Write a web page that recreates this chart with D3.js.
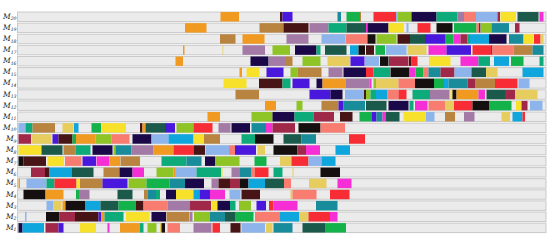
<!DOCTYPE html>
<html>
<head>
<meta charset="utf-8">
<script src="https://d3js.org/d3.v7.min.js"></script>
<style>
  body { margin: 0; background: #fff; }
  .lbl { font-family: "DejaVu Serif", serif; font-style: italic; font-size: 7.5px; fill: #222; }
</style>
</head>
<body>
<div id="chart"></div>
<script>
// machines, top to bottom
var machines = ["M20","M19","M18","M17","M16","M15","M14","M13","M12","M11","M10","M9","M8","M7","M6","M5","M4","M3","M2","M1"];

// one colour per job
var jobNames = ["orange","navy","violet","green","tealgreen","red","lime","lightblue","darkteal","magenta",
                "yellow","khaki","salmon","tan","mauve","maroon","darkbrown","black","tealblue","skyblue"];
var jobColors = ["#f09a22","#1a0848","#4a17dc","#13b24a","#0eab7a","#f72c35","#8ec425","#8db5ec","#1b5a4b","#f52fd5",
                 "#f7e12b","#e6cd5e","#f97c70","#b9843f","#a37aa6","#a02849","#471515","#150f10","#198c9c","#0fa6de"];

// operations per machine: [start, end, job]
var m20 = [[203,221.5,"orange"],[262.5,265,"darkbrown"],[265,275,"violet"],[320,323.5,"tealblue"],[329,342.5,"green"],[342.5,343.5,"tan"],
  [356,378.5,"red"],[378.5,380,"lightblue"],[380,394,"lime"],[394,419,"navy"],[419,440,"tealgreen"],[440,446.5,"mauve"],[446.5,458.5,"salmon"],
  [458.5,480,"lightblue"],[480,482.5,"maroon"],[483,498.5,"yellow"],[500,521,"darkteal"],[522,526,"magenta"]];
var m19 = [[167.5,189,"orange"],[242,266,"tan"],[266,291,"darkbrown"],[292,311,"mauve"],[311,329,"tealgreen"],[329,348.5,"darkteal"],
  [348.5,350,"magenta"],[350,371,"navy"],[371,386.5,"yellow"],[389,391,"lightblue"],[400,413,"red"],[419,435,"black"],[436.5,459,"green"],
  [459,461.5,"salmon"],[461.5,463,"violet"],[463,474,"lime"],[474,491.5,"tealblue"],[497.5,502,"maroon"]];
var m18 = [[202.5,218,"tan"],[225,247,"orange"],[269,291,"mauve"],[304,327.5,"lightblue"],[328,350,"salmon"],[350,358,"black"],[359,379,"lime"],
  [380,392.5,"darkbrown"],[392.5,407.5,"darkteal"],[407.5,427.5,"violet"],[427.5,436,"green"],[436,443,"magenta"],[443,450,"maroon"],
  [450,452.5,"tealgreen"],[452.5,471.5,"skyblue"],[471.5,489,"navy"],[491.5,506,"tealblue"],[506,516,"yellow"],[516.5,523,"red"],[523,526,"khaki"]];
var m17 = [[165.5,167,"orange"],[205,205.8,"khaki"],[225,247.5,"mauve"],[255,272.5,"lime"],[277.5,299,"navy"],[299,303,"tealgreen"],
  [307.5,329,"darkteal"],[332.5,341,"skyblue"],[341,347.5,"black"],[348.5,356.5,"darkbrown"],[358,367.5,"green"],[368.5,389,"lightblue"],
  [390,409,"khaki"],[411,429,"magenta"],[429,453.5,"violet"],[455,473.5,"red"],[473.5,475,"maroon"],[475,496,"salmon"],[496,515,"tan"],[515,526,"tealblue"]];
var m16 = [[158,165.5,"orange"],[233,251,"navy"],[251.5,268.5,"mauve"],[268.5,275,"tan"],[285,303,"lime"],[310,332.5,"khaki"],[333,347,"violet"],
  [347.5,361.5,"lightblue"],[362.5,371,"black"],[371.5,391,"maroon"],[391.5,394,"darkbrown"],[394,400,"red"],[411.5,433,"yellow"],
  [443,461,"magenta"],[461,472.5,"tealgreen"],[476.5,491.5,"skyblue"],[493.5,506,"green"],[522,526,"tealgreen"]];
var m15 = [[222,224.5,"orange"],[229,242,"yellow"],[249,266,"violet"],[273,280,"lime"],[280,304,"tan"],[311,325,"mauve"],[326,348.5,"navy"],
  [348.5,356,"red"],[356,372.5,"tealgreen"],[373,392,"black"],[392,398,"magenta"],[398,406,"green"],[406,411,"salmon"],[411,423,"tealblue"],
  [423,437,"maroon"],[437,454,"lightblue"],[454,468.5,"darkteal"],[468.5,480,"khaki"],[505,526,"skyblue"]];
var m14 = [[206,229,"yellow"],[241.5,265,"darkbrown"],[265,273,"tealgreen"],[275,292,"violet"],[299,305,"navy"],[305,328,"orange"],
  [328,352,"mauve"],[352,354,"magenta"],[356,358.5,"lime"],[358.5,381,"khaki"],[381,397.5,"salmon"],[397.5,416.5,"black"],[416.5,426.5,"green"],
  [426.5,431,"skyblue"],[431,450,"tealblue"],[450,457.5,"maroon"],[457.5,477.5,"tan"],[477.5,500,"red"],[501,512,"lightblue"]];
var m13 = [[218,241.5,"tan"],[292,313,"violet"],[313,325,"navy"],[327.5,346.5,"lightblue"],[346.5,348.5,"darkbrown"],[348.5,353,"lime"],
  [353,358.5,"tealgreen"],[358.5,370,"skyblue"],[370,381,"salmon"],[381,389,"red"],[395,412.5,"tealgreen"],[412.5,432,"mauve"],[433,435,"yellow"],
  [435,439,"black"],[439,461,"orange"],[461,467.5,"magenta"],[469,487.5,"darkteal"],[487.5,497.5,"maroon"],[497.5,520,"khaki"]];
var m12 = [[247.5,258.5,"orange"],[279,285,"lime"],[304,321,"tan"],[321,326,"violet"],[326,347.5,"tealblue"],[348.5,369,"darkteal"],
  [371,391,"navy"],[392,396,"tealgreen"],[397.5,410,"magenta"],[411,427.5,"salmon"],[427.5,436.5,"khaki"],[436.5,455,"red"],[455,471.5,"black"],
  [471.5,494,"green"],[498.5,503.5,"yellow"],[504,510,"maroon"],[512.5,525,"lightblue"]];
var m11 = [[190,202.5,"orange"],[234,255,"lime"],[255,277,"navy"],[277,296,"tealgreen"],[296,316.5,"maroon"],[322.5,335,"darkbrown"],
  [342,354,"green"],[354,359,"violet"],[359,365,"tealblue"],[365,368.5,"magenta"],[368.5,382,"darkteal"],[386,408.5,"yellow"],[408.5,417,"lightblue"],
  [427.5,437.5,"tan"],[446.5,457,"mauve"],[484,492.5,"khaki"],[495,505,"skyblue"],[505,507.5,"red"]];
var m10 = [[1,8,"lightblue"],[8,15,"tealgreen"],[15,37.5,"tan"],[45,56,"khaki"],[56.5,61,"skyblue"],[74,83.5,"green"],[84,108.5,"yellow"],
  [122.5,125,"darkbrown"],[125,128,"orange"],[128,147.5,"darkteal"],[147.5,157.5,"violet"],[159,176,"lime"],[176,195,"red"],[201,213,"mauve"],
  [214,232.5,"navy"],[234,248.5,"tealblue"],[248.5,255,"magenta"],[255,277.5,"maroon"],[281,303,"black"],[303,327.5,"salmon"]];
var m9 = [[1,13.5,"maroon"],[14,34,"khaki"],[35,41,"violet"],[41,55,"darkbrown"],[55,58.5,"green"],[58.5,78,"orange"],[78,94,"lime"],
  [94,112,"salmon"],[115,134,"navy"],[134,151,"lightblue"],[151,176,"skyblue"],[176,186.5,"yellow"],[186.5,202.5,"tan"],[224,237.5,"tealgreen"],
  [237.5,256,"black"],[266,284,"darkteal"],[284,298.5,"tealblue"],[331.5,347.5,"red"]];
var m8 = [[1,23.5,"yellow"],[24,45,"darkteal"],[46,58,"tan"],[58,73,"tealgreen"],[75,95,"navy"],[96,98,"lime"],[98,114,"tealblue"],
  [114,136,"mauve"],[136,156,"orange"],[156,176.5,"red"],[176.5,187.5,"darkbrown"],[188,211.5,"lightblue"],[211.5,217.5,"salmon"],
  [217.5,238.5,"violet"],[240,247.5,"khaki"],[256,280,"black"],[280,288.5,"maroon"],[288.5,302.5,"magenta"],[318,332.5,"skyblue"]];
var m7 = [[1,6,"black"],[6,28.5,"darkbrown"],[30,46.5,"yellow"],[47.5,64,"salmon"],[65,78.5,"violet"],[79,92,"magenta"],[92.5,102.5,"orange"],
  [103,122.5,"tan"],[144,169,"tealgreen"],[169,184,"tealblue"],[187.5,197.5,"navy"],[197.5,222,"lime"],[237,249,"green"],[262.5,274,"khaki"],
  [274,291,"red"],[291,304,"lightblue"],[304,318,"skyblue"]];
var m6 = [[13.5,27.5,"maroon"],[27.5,32,"darkbrown"],[32,54,"skyblue"],[54,76,"darkteal"],[86,102,"tan"],[102,115,"navy"],[115,126.5,"magenta"],
  [139,156,"lime"],[156,157.5,"orange"],[157.5,179,"lightblue"],[179,203.5,"tealgreen"],[203.5,205,"yellow"],[214,222.5,"mauve"],
  [222.5,233.5,"tealblue"],[233.5,237.5,"salmon"],[237.5,251,"red"],[256,265,"tealgreen"],[275,276,"khaki"],[303,322.5,"black"]];
var m5 = [[1,2.5,"orange"],[9,29,"lightblue"],[29,37,"tealgreen"],[37,59,"red"],[59,62.5,"yellow"],[62.5,85,"tan"],[85,110,"violet"],
  [111,129,"lime"],[129,152,"green"],[152,167.5,"tealblue"],[167.5,186.5,"navy"],[194,201,"mauve"],[201,212.5,"darkbrown"],[212.5,222.5,"maroon"],
  [222.5,231,"black"],[231,247.5,"skyblue"],[247.5,266.5,"darkteal"],[266.5,273.5,"salmon"],[291.5,309,"khaki"],[320,334,"magenta"]];
var m4 = [[6,28,"black"],[28,46,"orange"],[58.5,61.5,"green"],[61.5,72,"mauve"],[100,115,"darkteal"],[126.5,130,"tan"],[130,138.5,"tealblue"],
  [138.5,142.5,"tealgreen"],[148.5,158.5,"navy"],[158.5,176,"yellow"],[176,182,"skyblue"],[182,192.5,"violet"],[192.5,207.5,"magenta"],
  [212,223,"lightblue"],[224,242.5,"darkbrown"],[273,275,"khaki"],[275,299,"salmon"],[312.5,332,"red"]];
var m3 = [[29,36,"lightblue"],[36,44,"khaki"],[45,48,"orange"],[48,67.5,"black"],[67.5,83,"skyblue"],[83,101,"darkteal"],[101,118.5,"green"],
  [118.5,126,"darkbrown"],[126,150,"salmon"],[150,172.5,"mauve"],[172.5,193.5,"maroon"],[194,200,"yellow"],[200,212.5,"navy"],
  [212.5,218,"tealgreen"],[221.5,233.5,"lime"],[239,248.5,"violet"],[251.5,256,"red"],[256,280,"magenta"],[298.5,320,"tealblue"]];
var m2 = [[7.5,9,"lightblue"],[28.5,42,"black"],[42,57.5,"maroon"],[57.5,81,"darkbrown"],[81,83.5,"violet"],[83.5,87,"orange"],
  [87,106,"tealgreen"],[108.5,132,"yellow"],[134,148.5,"navy"],[149,172,"tan"],[172.5,175,"mauve"],[176.5,192.5,"lime"],[192.5,207.5,"tealblue"],
  [207.5,217.5,"darkteal"],[217.5,236,"green"],[237.5,262.5,"salmon"],[262.5,281.5,"skyblue"],[281.5,291,"khaki"],[291,312.5,"red"],[312.5,320,"magenta"]];
var m1 = [[1,5,"navy"],[5,26.5,"skyblue"],[28,41,"maroon"],[41,46,"violet"],[62.5,78.5,"yellow"],[90,92,"magenta"],[102.5,122.5,"orange"],
  [122.5,126,"tealgreen"],[130,139,"lime"],[142.5,144,"khaki"],[144,147.5,"black"],[150,162.5,"salmon"],[176,194,"mauve"],[195,202.5,"red"],
  [213,223,"darkbrown"],[224,247.5,"lightblue"],[248.5,255,"khaki"],[256,275,"tealblue"],[285,307.5,"darkteal"],[307.5,328.5,"green"]];

var schedule = [m20,m19,m18,m17,m16,m15,m14,m13,m12,m11,m10,m9,m8,m7,m6,m5,m4,m3,m2,m1];
var timeMax = 528.5;

var width = 550, height = 242;

var svg = d3.select("#chart")
  .append("svg")
  .attr("width", width)
  .attr("height", height);

var x = d3.scaleLinear().domain([0, timeMax]).range([17.5, 546]);

var y = d3.scaleBand()
  .domain(machines)
  .range([11.2, 233.4])
  .paddingInner(0.15)
  .paddingOuter(0.075);

var color = d3.scaleOrdinal().domain(jobNames).range(jobColors);

// grey lanes
svg.selectAll(".lane")
  .data(machines).enter()
  .append("rect")
  .attr("class", "lane")
  .attr("x", x(0))
  .attr("y", function (d) { return y(d); })
  .attr("width", x(timeMax) - x(0))
  .attr("height", y.bandwidth())
  .style("fill", "#ebebeb")
  .style("stroke", "#c9c9c9")
  .style("stroke-width", 1);

// operations
var rows = svg.selectAll(".row")
  .data(schedule).enter()
  .append("g")
  .attr("class", "row")
  .attr("transform", function (d, i) { return "translate(0," + y(machines[i]) + ")"; });

rows.selectAll("rect")
  .data(function (d) { return d; }).enter()
  .append("rect")
  .attr("x", function (d) { return x(d[0]); })
  .attr("y", 0)
  .attr("width", function (d) { return x(d[1]) - x(d[0]); })
  .attr("height", y.bandwidth())
  .style("fill", function (d) { return color(d[2]); });

// machine labels
var labels = svg.selectAll(".lbl")
  .data(machines).enter()
  .append("text")
  .attr("class", "lbl")
  .attr("text-anchor", "end")
  .attr("x", 16.5)
  .attr("y", function (d) { return y(d) + y.bandwidth() / 2 + 2; });

labels.append("tspan").text("M");
labels.append("tspan")
  .attr("dy", 1.6)
  .style("font-size", "4.6px")
  .text(function (d) { return d.slice(1); });
</script>
</body>
</html>
